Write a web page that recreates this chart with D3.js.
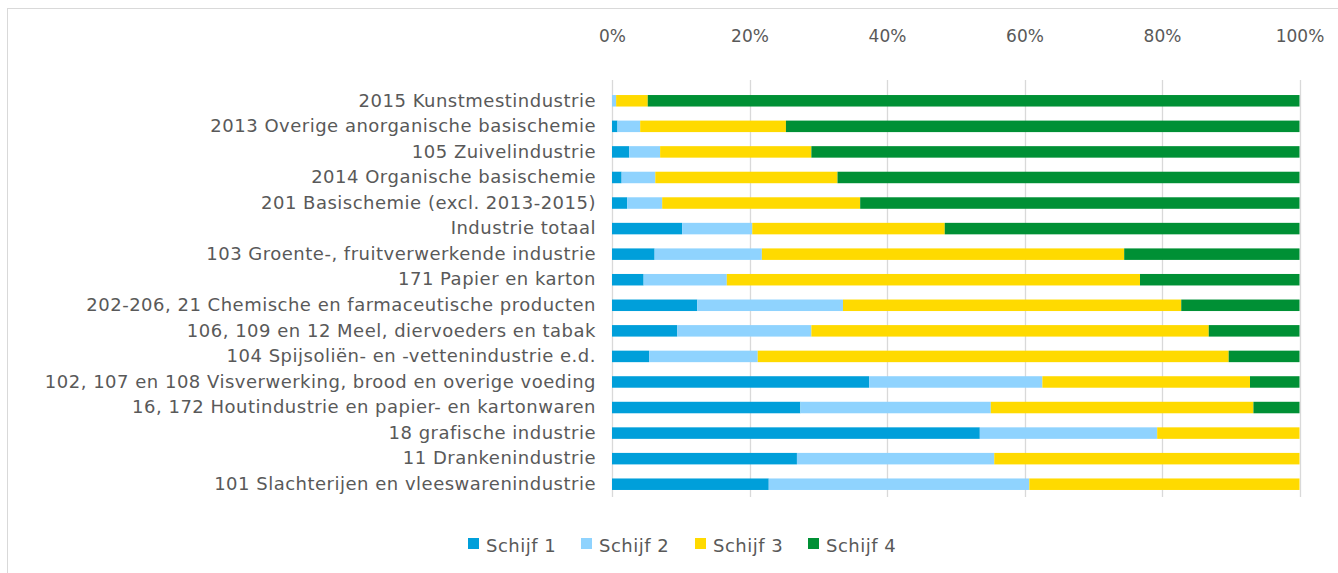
<!DOCTYPE html>
<html>
<head>
<meta charset="utf-8">
<script src="https://cdn.jsdelivr.net/npm/d3@7"></script>
<style>
  html, body { margin: 0; padding: 0; background: #ffffff; }
  svg { display: block; }
</style>
</head>
<body>
<svg id="chart" width="1338" height="573"></svg>
<script>
const categories = [
  "2015 Kunstmestindustrie",
  "2013 Overige anorganische basischemie",
  "105 Zuivelindustrie",
  "2014 Organische basischemie",
  "201 Basischemie (excl. 2013-2015)",
  "Industrie totaal",
  "103 Groente-, fruitverwerkende industrie",
  "171 Papier en karton",
  "202-206, 21 Chemische en farmaceutische producten",
  "106, 109 en 12 Meel, diervoeders en tabak",
  "104 Spijsoliën- en -vettenindustrie e.d.",
  "102, 107 en 108 Visverwerking, brood en overige voeding",
  "16, 172 Houtindustrie en papier- en kartonwaren",
  "18 grafische industrie",
  "11 Drankenindustrie",
  "101 Slachterijen en vleeswarenindustrie"
];
const seriesNames = ["Schijf 1", "Schijf 2", "Schijf 3", "Schijf 4"];
const schijf1 = [0.0, 0.8, 2.5, 1.4, 2.2, 10.2, 6.2, 4.6, 12.4, 9.5, 5.4, 37.4, 27.4, 53.5, 26.9, 22.8];
const schijf2 = [0.6, 3.3, 4.5, 4.9, 5.1, 10.2, 15.6, 12.1, 21.2, 19.5, 15.8, 25.2, 27.7, 25.8, 28.7, 37.9];
const schijf3 = [4.6, 21.2, 22.0, 26.5, 28.8, 28.0, 52.7, 60.1, 49.2, 57.8, 68.5, 30.2, 38.2, 20.7, 44.4, 39.3];
const schijf4 = [94.8, 74.7, 71.0, 67.2, 63.9, 51.6, 25.5, 23.2, 17.2, 13.2, 10.3, 7.2, 6.7, 0.0, 0.0, 0.0];
const tickValues = [0, 0.2, 0.4, 0.6, 0.8, 1.0];
const colors = ["#009fda", "#8fd3fe", "#ffda00", "#009035"];

const svg = d3.select("#chart");
const FONT = "DejaVu Sans, sans-serif";
const TEXT = "#595959";

// outer chart border
svg.append("rect")
  .attr("x", 7.5).attr("y", 8.5)
  .attr("width", 1400).attr("height", 700)
  .attr("fill", "none").attr("stroke", "#d9d9d9").attr("stroke-width", 1);

const x = d3.scaleLinear().domain([0, 1]).range([612, 1299.5]);
const y = d3.scaleBand().domain(categories).range([88, 497]).paddingInner(0.55).paddingOuter(0.275);

// gridlines
svg.append("g")
  .selectAll("line").data(tickValues).join("line")
  .attr("x1", d => Math.round(x(d)) + 0.5).attr("x2", d => Math.round(x(d)) + 0.5)
  .attr("y1", 80).attr("y2", 497)
  .attr("stroke", "#d9d9d9").attr("stroke-width", 1.3);

// top axis labels
const axisTop = d3.axisTop(x).tickValues(tickValues).tickFormat(d3.format(".0%")).tickSize(0).tickPadding(0);
const gx = svg.append("g").attr("transform", "translate(0,42)").call(axisTop);
gx.select(".domain").remove();
gx.selectAll("text").attr("font-family", FONT).attr("font-size", 17).attr("fill", TEXT).attr("dy", 0);

// stacked data
const rows = categories.map((c, i) => ({cat: c, "Schijf 1": schijf1[i], "Schijf 2": schijf2[i], "Schijf 3": schijf3[i], "Schijf 4": schijf4[i]}));
const stack = d3.stack().keys(seriesNames).offset(d3.stackOffsetExpand);
const stacked = stack(rows);

svg.append("g").selectAll("g").data(stacked).join("g")
  .attr("fill", (d, i) => colors[i])
  .selectAll("rect").data(d => d).join("rect")
  .attr("x", d => x(d[0]))
  .attr("width", d => Math.max(0, x(d[1]) - x(d[0])))
  .attr("y", d => y(d.data.cat))
  .attr("height", y.bandwidth());

// category labels
const axisLeft = d3.axisLeft(y).tickSize(0).tickPadding(0);
const gy = svg.append("g").attr("transform", "translate(596,0)").call(axisLeft);
gy.select(".domain").remove();
gy.selectAll("text").attr("font-family", FONT).attr("font-size", 18)
  .attr("letter-spacing", "0.5px").attr("fill", TEXT);

// legend
const legendX = [468, 581, 695, 808];
const lg = svg.append("g").selectAll("g").data(seriesNames).join("g")
  .attr("transform", (d, i) => `translate(${legendX[i]},538)`);
lg.append("rect").attr("width", 11).attr("height", 11).attr("fill", (d, i) => colors[i]);
lg.append("text").attr("x", 18).attr("y", 13.5)
  .attr("font-family", FONT).attr("font-size", 18).attr("letter-spacing", "0.5px")
  .attr("fill", TEXT).text(d => d);
</script>
</body>
</html>
